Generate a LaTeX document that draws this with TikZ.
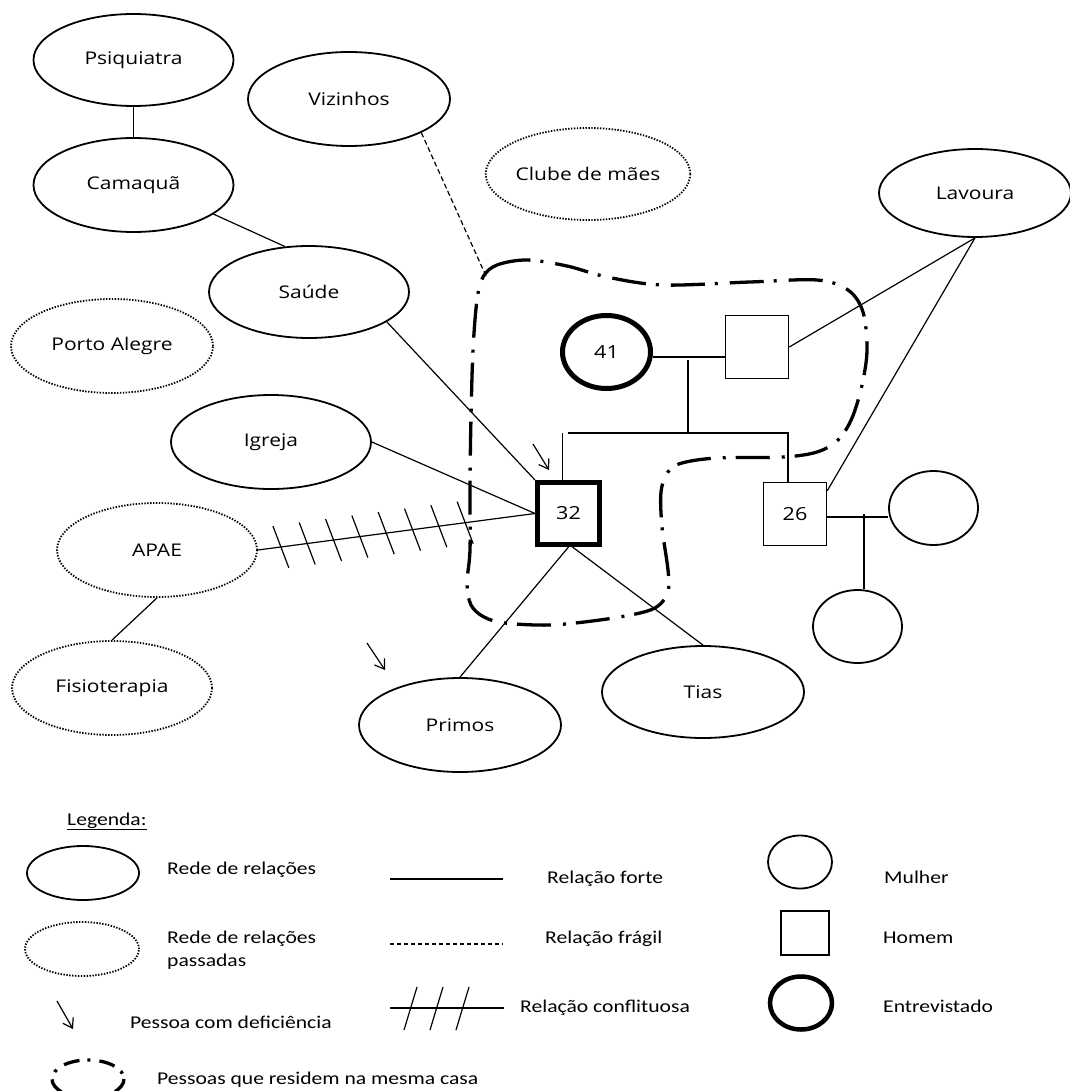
\documentclass[tikz,border=0pt]{standalone}
\usepackage{fontspec}
\newfontfamily\lbl[FakeStretch=1.2]{Open Sans}
\newfontfamily\lgd[FakeStretch=1.2]{Carlito}
\usetikzlibrary{shapes.geometric,arrows.meta,calc}
\begin{document}
\begin{tikzpicture}[x=1pt,y=-1pt,
  net/.style={ellipse,draw,line width=1.8pt,minimum width=200pt,minimum height=93pt,
    inner sep=0pt,font=\lbl\fontsize{17.5}{20}\selectfont},
  pastnet/.style={net,line width=1.8pt,dash pattern=on 1.4pt off 1.5pt},
  man/.style={rectangle,draw,line width=1.6pt,minimum size=63pt,inner sep=0pt,
    font=\lbl\fontsize{18}{20}\selectfont},
  woman/.style={ellipse,draw,line width=1.8pt,minimum width=88pt,minimum height=73pt,
    inner sep=0pt,font=\lbl\fontsize{18}{20}\selectfont},
  ego/.style={line width=5pt},
  tie/.style={line width=1.2pt},
  weak/.style={tie,dash pattern=on 5pt off 3pt},
  house/.style={line width=3.3pt,dash pattern=on 34pt off 10pt on 3pt off 12pt},
  pcd/.style={tie,-{Straight Barb[length=9pt,width=12pt,line width=1.2pt]}},
  lgtext/.style={anchor=base west,inner sep=0pt,align=left,
    font=\lgd\fontsize{18}{23}\selectfont}
]
\fill[white] (0,0) rectangle (1069,1091);
\useasboundingbox (0,0) rectangle (1069,1091);

% ---- support network ----
\node[net,minimum width=200pt,minimum height=92pt] (psi) at (133.5,60) {Psiquiatra};
\node[net,minimum width=202pt,minimum height=94pt] (vz) at (349,99) {Vizinhos};
\node[net,minimum height=94pt] (cam) at (133.5,185) {Camaquã};
\node[pastnet,minimum height=92pt] (clube) at (588,174) {Clube de mães};
\node[net,minimum width=192pt,minimum height=88pt] (lav) at (975,193) {Lavoura};
\node[net,minimum height=92pt] (sau) at (309,292) {Saúde};
\node[pastnet,minimum width=202pt,minimum height=94pt] (poa) at (112,346) {Porto Alegre};
\node[net,minimum height=94pt] (igr) at (271,442) {Igreja};
\node[pastnet,minimum height=94pt] (apae) at (157,550) {APAE};
\node[pastnet,minimum height=94pt] (fis) at (112,688) {Fisioterapia};
\node[net,minimum width=202pt,minimum height=94pt] (pri) at (460,725) {Primos};
\node[net,minimum width=202pt,minimum height=92pt] (tia) at (703,692) {Tias};

% ---- family ----
\node[woman,ego,minimum width=88pt,minimum height=73pt] (c41) at (606.5,352) {41};
\node[man] (fa) at (757,347) {};
\node[man,ego,minimum size=62pt] (s32) at (568.5,513.5) {32};
\node[man] (s26) at (795,514) {26};
\node[woman,minimum width=89pt,minimum height=74pt] (wife) at (933.5,508) {};
\node[woman,minimum width=89pt,minimum height=73pt] (kid) at (857.5,626.5) {};

\coordinate (drop) at (688,360);
\coordinate (barL) at (568,433);
\coordinate (barR) at (788,433);
\coordinate (kidtop) at (864,514);
\coordinate (hh) at (486,276);

% household boundary
\draw[house] plot[smooth cycle,tension=0.55] coordinates {
  (483,277) (497,265) (527,260) (567,266) (607,277) (663,285) (750,282)
  (817,280) (848,290) (863,312) (867,350) (862,385) (852,418) (838,440)
  (817,452) (783,457) (717,458) (682,463) (668,472) (661,492) (662,527)
  (668,570) (668,592) (658,606) (640,613) (600,620) (550,625) (505,623)
  (484,617) (471,605) (467,583) (470,550) (470,483) (471,417) (473,350)
  (477,300)};

% kinship lines
\draw[tie] ([yshift=-5pt]c41.east) -- ([yshift=-10pt]fa.west);
\draw[tie] (drop) -- (drop |- barL);
\draw[tie] (barL) -- (barR) -- (barR |- s26.north);
\draw[tie] ([xshift=-6pt]s32.north) -- ([xshift=-6pt]s32.north |- barL);
\draw[tie] ([yshift=-3pt]s26.east) -- ([yshift=-9pt]wife.west);
\draw[tie] (kidtop) -- (kidtop |- kid.north);

% relations
\draw[tie] (psi.south) -- (cam.north);
\draw[tie] (cam.-20) -- (sau.118);
\draw[tie] (sau.-21) -- (s32.north west);
\draw[tie] (igr.east) -- (s32.west);
\draw[tie] (apae.east) -- (s32.west);
\foreach \t in {0.083,0.178,0.273,0.368,0.463,0.558,0.653,0.748}
  \draw[tie] ($(apae.east)!\t!(s32.west)$) ++(-8,-21) -- ++(16,42);
\draw[tie] (apae.south) -- (fis.north);
\draw[tie] (s32.south) -- (pri.north);
\draw[tie] ([xshift=4pt]s32.south) -- (tia.north);
\draw[weak] (vz.-25) -- (hh);
\draw[tie] (lav.south) -- (fa.east);
\draw[tie] (lav.south) -- ([yshift=-9pt]s26.north east);

% persons with disability
\coordinate (pa1) at (533,444);
\coordinate (pa2) at (549,470);
\draw[pcd] (pa1) -- (pa2);
\coordinate (pb1) at (367,643);
\coordinate (pb2) at (385,670);
\draw[pcd] (pb1) -- (pb2);

% ---- legend ----
\node[lgtext] (lgtitle) at (67,825) {\underline{Legenda:}};

\node[ellipse,draw,line width=1.8pt,minimum width=112pt,minimum height=54pt] (lg1) at (83,873) {};
\node[lgtext] (lt1) at (167,874) {Rede de relações};
\node[ellipse,draw,line width=1.8pt,dash pattern=on 1.4pt off 1.5pt,minimum width=114pt,minimum height=54pt] (lg2) at (82,949) {};
\node[lgtext] (lt2) at (167,966) {Rede de relações\\passadas};
\coordinate (la1) at (57,1001);
\coordinate (la2) at (73,1029);
\draw[pcd] (la1) -- (la2);
\node[lgtext] (lt3) at (130,1028) {Pessoa com deficiência};
\draw[house,dash pattern=on 16pt off 8pt on 3pt off 9pt] (88,1079) ellipse [x radius=36, y radius=19];
\node[lgtext] (lt4) at (157,1084) {Pessoas que residem na mesma casa};

\coordinate (lf1) at (390,879);
\coordinate (lf2) at (503,879);
\draw[tie] (lf1) -- (lf2);
\node[lgtext] (lt5) at (547,883) {Relação forte};
\coordinate (lw1) at (390,944);
\coordinate (lw2) at (503,944);
\draw[weak,dash pattern=on 4pt off 3pt] (lw1) -- (lw2);
\node[lgtext] (lt6) at (545,943) {Relação frágil};
\coordinate (lc1) at (390,1008);
\coordinate (lc2) at (504,1008);
\draw[tie] (lc1) -- (lc2);
\foreach \dx in {0,26,52}
  \draw[tie] (404+\dx,1030) -- (417+\dx,987);
\node[lgtext] (lt7) at (520,1012) {Relação conflituosa};

\node[ellipse,draw,line width=1.8pt,minimum width=64pt,minimum height=53pt] (lgw) at (800,862) {};
\node[lgtext] (lt8) at (884,883) {Mulher};
\node[rectangle,draw,line width=1.6pt,minimum width=48pt,minimum height=44pt] (lgm) at (805,933) {};
\node[lgtext] (lt9) at (883,943) {Homem};
\node[ellipse,draw,line width=4.5pt,minimum width=62pt,minimum height=53pt] (lge) at (801,1003) {};
\node[lgtext] (lt10) at (883,1012) {Entrevistado};
\end{tikzpicture}
\end{document}
